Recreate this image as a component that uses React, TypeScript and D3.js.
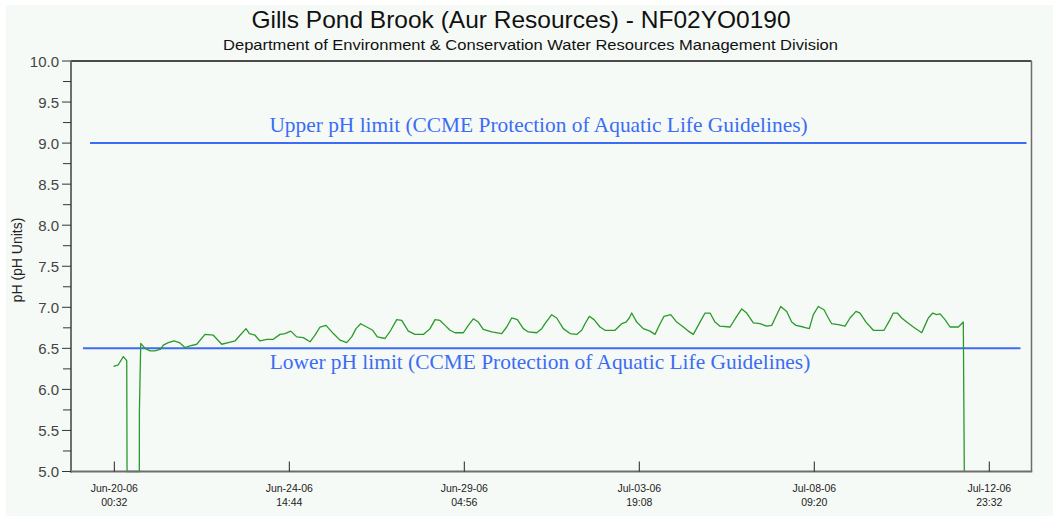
import React from "react";
import * as d3 from "d3";

const TITLE = "Gills Pond Brook (Aur Resources) - NF02YO0190";
const SUBTITLE = "Department of Environment & Conservation Water Resources Management Division";
const Y_LABEL = "pH (pH Units)";

// time origin for the day offsets below (UTC)
const SERIES_START = "2006-06-20T00:00";
const X_DOMAIN = ["2006-06-18T21:15", "2006-07-14T02:07"];
const X_TICKS = [
  "2006-06-20T00:32",
  "2006-06-24T14:44",
  "2006-06-29T04:56",
  "2006-07-03T19:08",
  "2006-07-08T09:20",
  "2006-07-12T23:32",
];
const Y_DOMAIN = [5, 10];
const Y_MAJOR = [5, 5.5, 6, 6.5, 7, 7.5, 8, 8.5, 9, 9.5, 10];
const Y_MINOR = [5.25, 5.75, 6.25, 6.75, 7.25, 7.75, 8.25, 8.75, 9.25, 9.75];

// pH readings: days since SERIES_START, value
const DAYS = [
  0.0, 0.127, 0.258, 0.348, 0.356, 0.678, 0.68, 0.704, 0.715,
  0.828, 0.959, 1.09, 1.24, 1.308, 1.439, 1.589, 1.728, 1.877, 2.009, 2.184,
  2.402, 2.62, 2.84, 3.014, 3.189, 3.321, 3.478, 3.565, 3.714, 3.845,
  4.021, 4.194, 4.37, 4.501, 4.651, 4.808, 4.981, 5.157, 5.288, 5.42,
  5.577, 5.769, 5.944, 6.12, 6.251, 6.364, 6.487, 6.645, 6.802, 6.923,
  7.125, 7.275, 7.432, 7.563, 7.737, 7.912, 8.13, 8.306, 8.437, 8.568,
  8.7, 8.831, 8.962, 9.18, 9.311, 9.442, 9.573, 9.704, 9.925, 10.187,
  10.318, 10.45, 10.597, 10.754, 10.885, 11.105, 11.237, 11.323, 11.499, 11.63,
  11.803, 11.979, 12.155, 12.286, 12.373, 12.486, 12.609, 12.766, 12.898, 13.16,
  13.336, 13.449, 13.535, 13.598, 13.729, 13.903, 14.078, 14.209, 14.341, 14.446,
  14.621, 14.779, 14.952, 15.083, 15.215, 15.39, 15.522, 15.653, 15.784, 15.915,
  16.178, 16.353, 16.485, 16.616, 16.789, 16.965, 17.141, 17.272, 17.403, 17.508,
  17.665, 17.797, 17.909, 18.101, 18.258, 18.363, 18.494, 18.644, 18.757, 18.846,
  19.019, 19.195, 19.326, 19.484, 19.589, 19.746, 19.938, 20.218, 20.376, 20.462,
  20.567, 20.683, 20.814, 20.987, 21.208, 21.294, 21.381, 21.496, 21.601, 21.688,
  21.819, 21.95, 22.168, 22.299, 22.325,
];
const PH = [
  6.28, 6.3, 6.4, 6.35, 5.0, 5.0, 5.73, 6.3, 6.56,
  6.5, 6.47, 6.47, 6.49, 6.54, 6.57, 6.59, 6.57, 6.51, 6.53, 6.55,
  6.67, 6.66, 6.55, 6.57, 6.59, 6.66, 6.74, 6.68, 6.66, 6.59,
  6.61, 6.61, 6.67, 6.68, 6.71, 6.64, 6.63, 6.58, 6.66, 6.76,
  6.78, 6.68, 6.6, 6.57, 6.64, 6.74, 6.8, 6.76, 6.72, 6.64,
  6.62, 6.72, 6.85, 6.84, 6.71, 6.67, 6.67, 6.74, 6.85, 6.84,
  6.78, 6.72, 6.69, 6.69, 6.78, 6.86, 6.82, 6.73, 6.7, 6.68,
  6.76, 6.87, 6.85, 6.74, 6.7, 6.69, 6.74, 6.8, 6.91, 6.87,
  6.74, 6.68, 6.67, 6.72, 6.8, 6.89, 6.85, 6.76, 6.72, 6.72,
  6.8, 6.82, 6.87, 6.93, 6.82, 6.74, 6.71, 6.67, 6.8, 6.89,
  6.91, 6.82, 6.76, 6.71, 6.67, 6.82, 6.93, 6.93, 6.82, 6.77,
  6.76, 6.89, 6.98, 6.93, 6.81, 6.8, 6.77, 6.78, 6.91, 7.01,
  6.95, 6.82, 6.78, 6.76, 6.74, 6.91, 7.01, 6.97, 6.87, 6.8,
  6.79, 6.77, 6.87, 6.95, 6.93, 6.82, 6.72, 6.72, 6.85, 6.93,
  6.93, 6.87, 6.82, 6.76, 6.69, 6.78, 6.87, 6.93, 6.91, 6.92,
  6.85, 6.76, 6.76, 6.82, 5.0,
];

// guideline limits
const LIMIT_NAMES = ["upper", "lower"];
const LIMIT_VALUES = [9.0, 6.5];
const LIMIT_FROM = ["2006-06-19T09:14", "2006-06-19T04:49"];
const LIMIT_TO = ["2006-07-13T22:58", "2006-07-13T19:11"];
const LIMIT_TEXT = [
  "Upper pH limit (CCME Protection of Aquatic Life Guidelines)",
  "Lower pH limit (CCME Protection of Aquatic Life Guidelines)",
];

const W = 1053;
const H = 516;
const M = { left: 71, right: 1031.5, top: 61, bottom: 471.5 };

export default function App() {
  const parse = d3.utcParse("%Y-%m-%dT%H:%M");
  const start = parse(SERIES_START)!.getTime();
  const x = d3
    .scaleUtc()
    .domain(X_DOMAIN.map((s) => parse(s)!))
    .range([M.left, M.right]);
  const y = d3.scaleLinear().domain(Y_DOMAIN).range([M.bottom, M.top]);

  const data = DAYS.map((d, i) => ({ t: new Date(start + d * 86400000), v: PH[i] }));
  const line = d3
    .line<{ t: Date; v: number }>()
    .x((d) => x(d.t))
    .y((d) => y(d.v));

  const fmtDate = d3.utcFormat("%b-%d-%y");
  const fmtTime = d3.utcFormat("%H:%M");
  const fmtY = d3.format(".1f");
  const sans = "'Liberation Sans', Arial, sans-serif";
  const serif = "'Liberation Serif', 'Times New Roman', serif";
  const axisColor = "#6e6e6e";

  return (
    <svg
      width={W}
      height={H}
      style={{ position: "absolute", left: 0, top: 0, background: "#ffffff" }}
    >
      <rect x={6} y={5} width={W - 6} height={H - 5} fill="#f6faf6" />
      <text x={521} y={28} textAnchor="middle" fontFamily={sans} fontSize={24.5} fill="#111">
        {TITLE}
      </text>
      <text
        x={223}
        y={50}
        fontFamily={sans}
        fontSize={15}
        fill="#111"
        textLength={615}
        lengthAdjust="spacingAndGlyphs"
      >
        {SUBTITLE}
      </text>

      {/* guideline lines */}
      {LIMIT_NAMES.map((n, i) => (
        <line
          key={n}
          x1={x(parse(LIMIT_FROM[i])!)}
          x2={x(parse(LIMIT_TO[i])!)}
          y1={y(LIMIT_VALUES[i])}
          y2={y(LIMIT_VALUES[i])}
          stroke="#3c6cf5"
          strokeWidth={2}
        />
      ))}
      <text x={538.5} y={y(LIMIT_VALUES[0]) - 11} textAnchor="middle" fontFamily={serif} fontSize={21.4} fill="#3c6cf5">
        {LIMIT_TEXT[0]}
      </text>
      <text x={540} y={y(LIMIT_VALUES[1]) + 21} textAnchor="middle" fontFamily={serif} fontSize={21.4} fill="#3c6cf5">
        {LIMIT_TEXT[1]}
      </text>

      {/* data */}
      <path d={line(data) || ""} fill="none" stroke="#2a9a2a" strokeWidth={1.3} strokeLinejoin="round" />

      {/* frame */}
      <line x1={M.left} x2={M.right} y1={M.top} y2={M.top} stroke="#111" strokeWidth={1.5} />
      <line x1={M.right} x2={M.right} y1={M.top} y2={M.bottom} stroke={axisColor} strokeWidth={1.5} />
      <line x1={M.left - 1} x2={M.right + 0.75} y1={M.bottom} y2={M.bottom} stroke={axisColor} strokeWidth={2} />
      <line x1={M.left} x2={M.left} y1={M.top} y2={M.bottom + 1} stroke={axisColor} strokeWidth={2} />

      {/* y ticks */}
      {Y_MAJOR.map((v) => (
        <g key={"ym" + v}>
          <line x1={M.left - 9} x2={M.left} y1={y(v)} y2={y(v)} stroke="#333" strokeWidth={1} />
          <text x={M.left - 12} y={y(v) + 5.5} textAnchor="end" fontFamily={sans} fontSize={15} fill="#444">
            {fmtY(v)}
          </text>
        </g>
      ))}
      {Y_MINOR.map((v) => (
        <line key={"yn" + v} x1={M.left - 8} x2={M.left} y1={y(v)} y2={y(v)} stroke="#333" strokeWidth={1} />
      ))}
      <text
        transform={`translate(22,260) rotate(-90)`}
        textAnchor="middle"
        fontFamily={sans}
        fontSize={14}
        fill="#222"
      >
        {Y_LABEL}
      </text>

      {/* x ticks */}
      {X_TICKS.map((s) => {
        const d = parse(s)!;
        const xp = x(d);
        return (
          <g key={s}>
            <line x1={xp} x2={xp} y1={M.bottom} y2={M.bottom - 10} stroke="#222" strokeWidth={1} />
            <text x={xp} y={492} textAnchor="middle" fontFamily={sans} fontSize={10.5} fill="#222">
              {fmtDate(d)}
            </text>
            <text x={xp} y={506} textAnchor="middle" fontFamily={sans} fontSize={10.5} fill="#222">
              {fmtTime(d)}
            </text>
          </g>
        );
      })}
    </svg>
  );
}
